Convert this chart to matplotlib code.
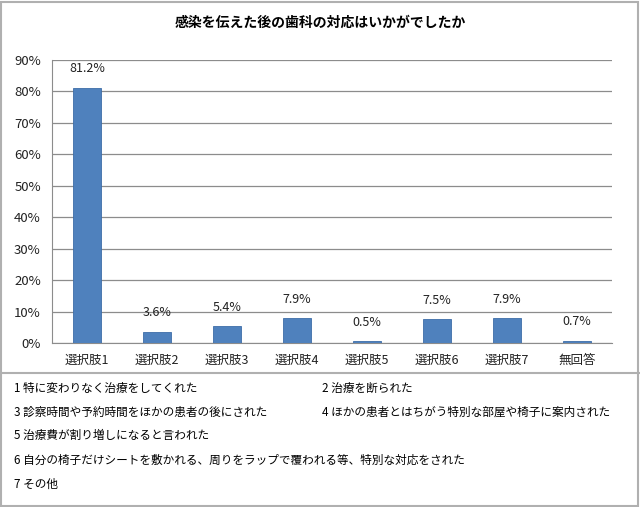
import matplotlib.pyplot as plt
from matplotlib.patches import Rectangle
from matplotlib.lines import Line2D
import numpy as np

plt.rcParams['font.family'] = ['Noto Sans CJK JP', 'DejaVu Sans']

title = "感染を伝えた後の歯科の対応はいかがでしたか"
categories = ["選択肢1", "選択肢2", "選択肢3", "選択肢4", "選択肢5", "選択肢6", "選択肢7", "無回答"]
values = [81.2, 3.6, 5.4, 7.9, 0.5, 7.5, 7.9, 0.7]
yticks = [0, 10, 20, 30, 40, 50, 60, 70, 80, 90]

notes_left = ["1 特に変わりなく治療をしてくれた",
              "3 診察時間や予約時間をほかの患者の後にされた",
              "5 治療費が割り増しになると言われた",
              "6 自分の椅子だけシートを敷かれる、周りをラップで覆われる等、特別な対応をされた",
              "7 その他"]
notes_right = ["2 治療を断られた",
               "4 ほかの患者とはちがう特別な部屋や椅子に案内された"]

fig = plt.figure(figsize=(6.4, 5.07), dpi=100)
W, H = 640, 507

# outer frame and separator
fig.add_artist(Rectangle((1/W, 1/H), 1 - 3/W, 1 - 3/H, transform=fig.transFigure,
                         fill=False, edgecolor="#b0b0b0", linewidth=1.5))
fig.add_artist(Line2D([0, 1], [1 - 373/H, 1 - 373/H], transform=fig.transFigure,
                      color="#b0b0b0", linewidth=1.5))

ax = fig.add_axes([52/W, 1 - 343/H, 560/W, 283/H])
x = np.arange(len(categories))
bars = ax.bar(x, values, width=0.4, color="#4f81bd", edgecolor="#3d6da8", linewidth=0.6, zorder=3)
for xi, v in zip(x, values):
    ax.annotate(f"{v:.1f}%", (xi, v), xytext=(0, 9), textcoords="offset points",
                ha="center", va="bottom", fontsize=9, color="#222222")

ax.set_xlim(-0.5, len(categories) - 0.5)
ax.set_ylim(0, 90)
ax.set_yticks(yticks)
ax.set_yticklabels([f"{t}%" for t in yticks], fontsize=9.5)
ax.set_xticks(x)
ax.set_xticklabels(categories, fontsize=9)
ax.tick_params(axis="both", length=0, pad=8, colors="#222222")
ax.grid(axis="y", color="#8c8c8c", linewidth=0.9, zorder=0)
for s in ["top", "right"]:
    ax.spines[s].set_visible(False)
for s in ["left", "bottom"]:
    ax.spines[s].set_color("#8c8c8c")

fig.text(0.5, 1 - 23/H, title, ha="center", va="center", fontsize=10, fontweight="bold")

ys = [388, 412, 436, 460, 484]
for t, yy in zip(notes_left, ys):
    fig.text(14/W, 1 - yy/H, t, ha="left", va="center", fontsize=8.4)
for t, yy in zip(notes_right, ys[:2]):
    fig.text(322/W, 1 - yy/H, t, ha="left", va="center", fontsize=8.4)

fig.savefig("out.png", dpi=100)
